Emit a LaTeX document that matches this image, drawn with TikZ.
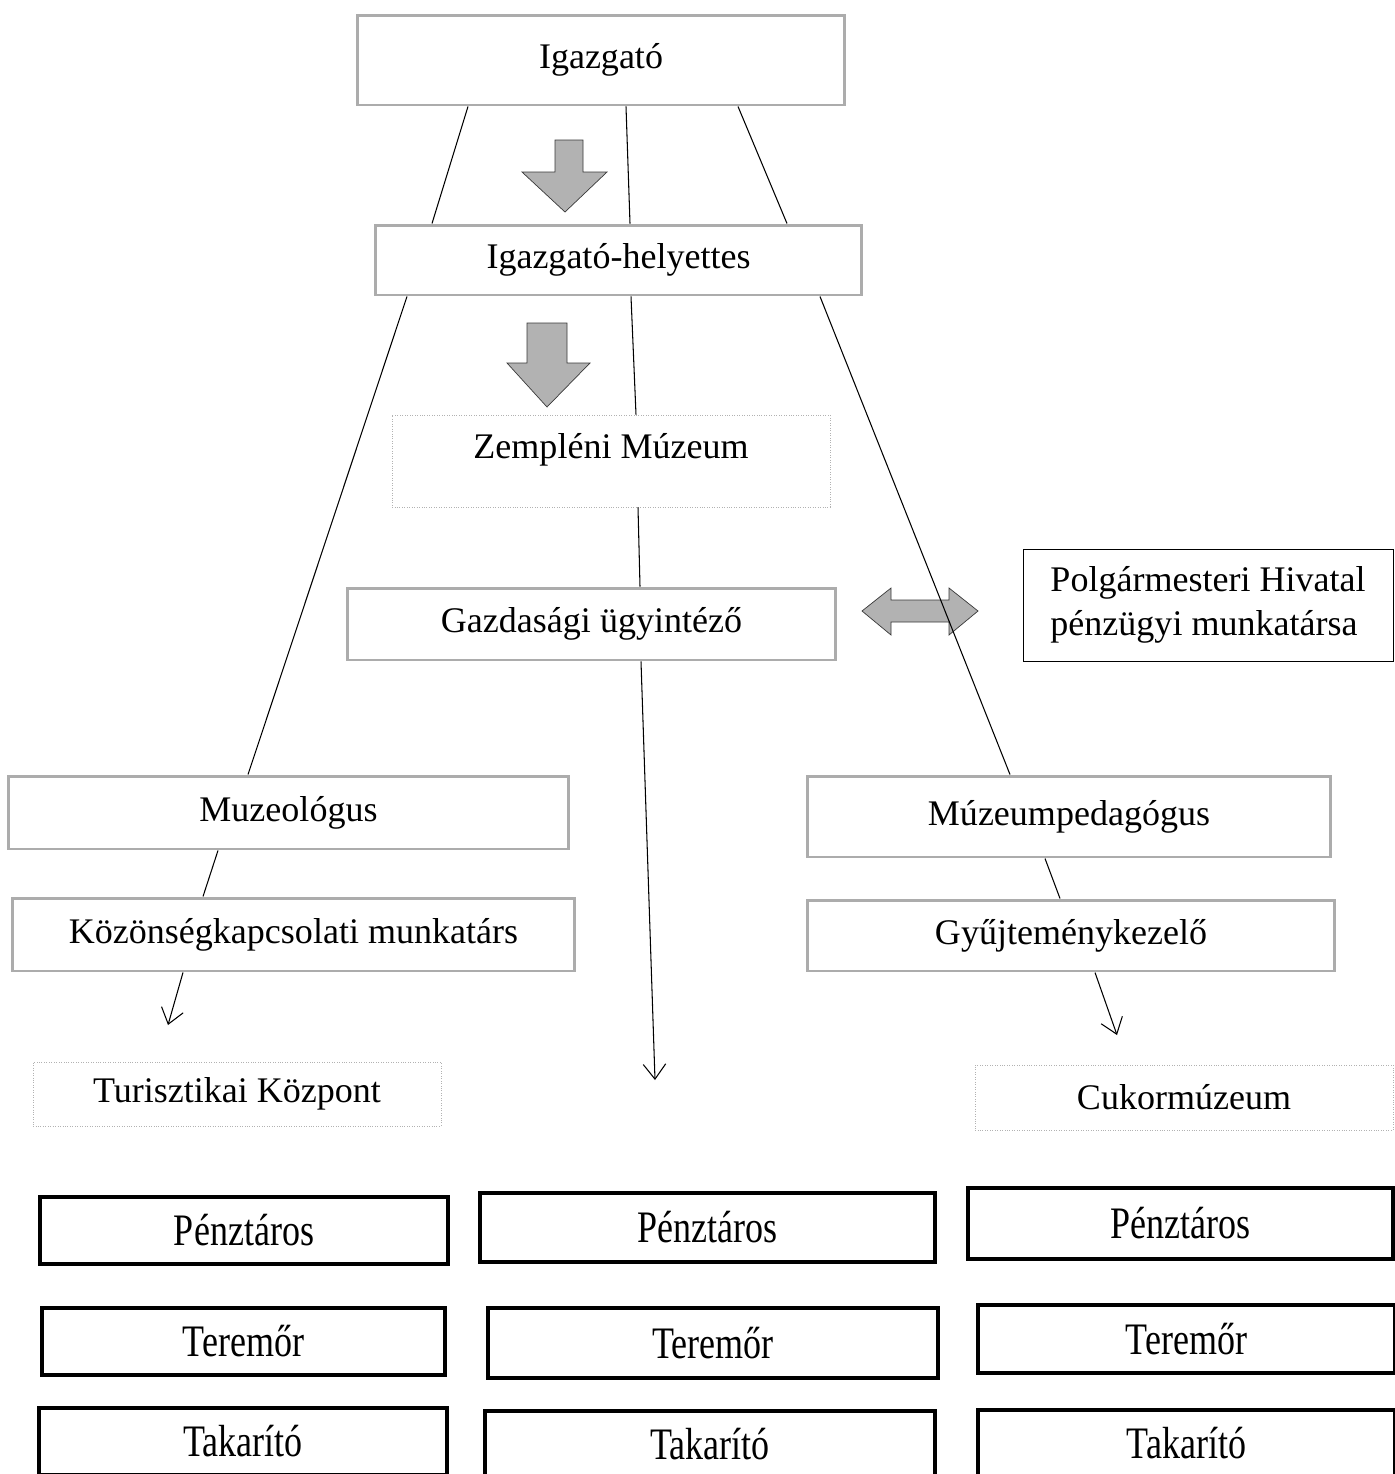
\documentclass[tikz,border=0pt]{standalone}
\usepackage{fontspec}
\setmainfont{Liberation Serif}
\usepackage{graphicx}
\usepackage{tikz}
\usetikzlibrary{positioning,arrows.meta}
\newcommand{\tall}[1]{\scalebox{1}[1.25]{#1}}

\begin{document}
\begin{tikzpicture}[x=0.02cm, y=-0.02cm, font=\fontsize{20.5}{25}\selectfont, line width=0.6pt, >={Straight Barb[length=3mm,width=4.5mm]},
  grbox/.style = {draw=gray!65, line width=1.7pt, inner sep=0pt},
  dotbox/.style = {draw=gray!60, densely dotted, thin, inner sep=0pt},
  plainbox/.style = {draw, thin, inner sep=0pt},
  thickbox/.style = {draw, line width=2.2pt, inner sep=0pt},
  blockarrow/.style = {fill=gray!60, draw=gray!45!black, thin}]
                \useasboundingbox (0,0) rectangle (1395,1474);
                \node[grbox, minimum width=9.76cm, minimum height=1.8cm] (ig) at (601,60) {Igazgató};
                \node[grbox, minimum width=9.74cm, minimum height=1.4cm] (hely) at (618.5,260) {Igazgató-helyettes};
                \node[dotbox, minimum width=8.76cm, minimum height=1.84cm, text depth=0.6cm] (zemp) at (611,461) {Zempléni Múzeum};
                \node[grbox, minimum width=9.78cm, minimum height=1.44cm] (gazd) at (591.5,624) {Gazdasági ügyintéző};
                \node[plainbox, minimum width=7.4cm, minimum height=2.24cm, align=left] (polg) at (1208,605) {Polgármesteri Hivatal\\pénzügyi munkatársa};
                \node[grbox, minimum width=11.22cm, minimum height=1.46cm] (muz) at (288.5,812.5) {Muzeológus};
                \node[grbox, minimum width=11.26cm, minimum height=1.46cm] (koz) at (293.5,934.5) {Közönségkapcsolati munkatárs};
                \node[dotbox, minimum width=8.16cm, minimum height=1.28cm] (turi) at (237,1094) {Turisztikai Központ};
                \node[grbox, minimum width=10.48cm, minimum height=1.62cm] (mped) at (1069,816.5) {Múzeumpedagógus};
                \node[grbox, minimum width=10.56cm, minimum height=1.42cm] (gyuj) at (1071,935.5) {Gyűjteménykezelő};
                \node[dotbox, minimum width=8.36cm, minimum height=1.3cm] (cukor) at (1184,1097.5) {Cukormúzeum};
                \node[thickbox, minimum width=8.16cm, minimum height=1.34cm] (p1) at (244,1230.5) {\tall{Pénztáros}};
                \node[thickbox, minimum width=9.1cm, minimum height=1.38cm] (p2) at (707.5,1227.5) {\tall{Pénztáros}};
                \node[thickbox, minimum width=8.5cm, minimum height=1.42cm] (p3) at (1180.5,1223.5) {\tall{Pénztáros}};
                \node[thickbox, minimum width=8.06cm, minimum height=1.34cm] (t1) at (243.5,1341.5) {\tall{Teremőr}};
                \node[thickbox, minimum width=9cm, minimum height=1.4cm] (t2) at (713,1343) {\tall{Teremőr}};
                \node[thickbox, minimum width=8.34cm, minimum height=1.36cm] (t3) at (1186.5,1339) {\tall{Teremőr}};
                \node[thickbox, minimum width=8.16cm, minimum height=1.34cm] (k1) at (243,1441.5) {\tall{Takarító}};
                \node[thickbox, minimum width=9cm, minimum height=1.34cm] (k2) at (710,1444.5) {\tall{Takarító}};
                \node[thickbox, minimum width=8.34cm, minimum height=1.34cm] (k3) at (1186.5,1443.5) {\tall{Takarító}};
                \coordinate (e1) at (168,1025);
                \coordinate (e2) at (655,1080);
                \coordinate (e3) at (1117,1035);
                \draw[blockarrow] (555,140) -- (583,140) -- (583,172) -- (607,172) -- (565,212) -- (522,172) -- (555,172) -- cycle;
                \draw[blockarrow] (527,323) -- (567,323) -- (567,363) -- (590,363) -- (547,407) -- (507,363) -- (527,363) -- cycle;
                \draw[blockarrow] (862,611) -- (891,588) -- (891,600) -- (949,600) -- (949,588) -- (978,611) -- (949,635) -- (949,622) -- (891,622) -- (891,635) -- cycle;
                \draw (ig.south -| 468,0) -- (hely.north -| 432,0);
                \draw (ig.south -| 626,0) -- (hely.north -| 630,0);
                \draw (ig.south -| 738,0) -- (hely.north -| 787,0);
                \draw (hely.south -| 407,0) -- (muz.north -| 248,0);
                \draw (hely.south -| 631,0) -- (zemp.north -| 636,0);
                \draw (hely.south -| 820,0) -- (mped.north -| 1010,0);
                \draw (zemp.south -| 638,0) -- (gazd.north -| 640,0);
                \draw[->] (gazd.south -| 641,0) -- (e2);
                \draw (muz.south -| 218,0) -- (koz.north -| 203,0);
                \draw[->] (koz.south -| 183,0) -- (e1);
                \draw (mped.south -| 1045,0) -- (gyuj.north -| 1060,0);
                \draw[->] (gyuj.south -| 1095,0) -- (e3);
            \end{tikzpicture}
\end{document}
